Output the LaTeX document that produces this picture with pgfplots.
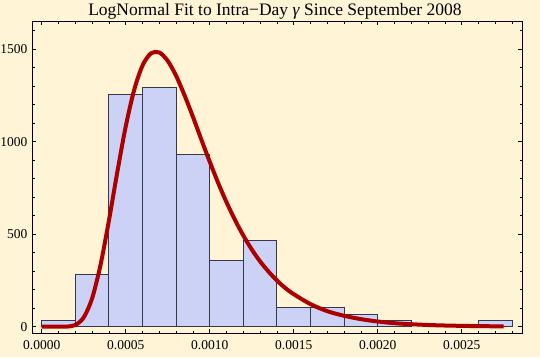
\documentclass[border=0pt]{standalone}
\usepackage{fontspec}
\setmainfont{Liberation Serif}
\usepackage{pgfplots}
\pgfplotsset{compat=1.18}
\definecolor{bg}{RGB}{255,244,214}
\definecolor{barfill}{RGB}{204,210,245}
\definecolor{baredge}{RGB}{55,55,75}
\definecolor{curvecol}{RGB}{172,0,0}
\begin{document}
\begin{tikzpicture}
\useasboundingbox (-32pt,-24pt) rectangle (508pt,333pt);
\fill[bg] (-32pt,-24pt) rectangle (508pt,333pt);
\begin{axis}[
  at={(0pt,0pt)}, anchor=south west,
  scale only axis, width=490pt, height=312pt,
  xmin=-0.0000577, xmax=0.002859, ymin=-34, ymax=1652,
  scaled x ticks=false, scaled y ticks=false,
  xtick={0,0.0005,0.001,0.0015,0.002,0.0025},
  xticklabels={0.0000,0.0005,0.0010,0.0015,0.0020,0.0025},
  minor xtick={0.0001,0.0002,0.0003,0.0004,0.0006,0.0007,0.0008,0.0009,0.0011,0.0012,0.0013,0.0014,0.0016,0.0017,0.0018,0.0019,0.0021,0.0022,0.0023,0.0024,0.0026,0.0027,0.0028},
  ytick={0,500,1000,1500},
  yticklabels={0,500,1000,1500},
  minor ytick={100,200,300,400,600,700,800,900,1100,1200,1300,1400,1600},
  tick align=inside,
  major tick length=4pt, minor tick length=2.5pt,
  tick style={black, line width=0.6pt},
  axis line style={black, line width=0.6pt},
  ticklabel style={font=\fontsize{13.5}{15}\selectfont},
  xticklabel style={yshift=-3.5pt},
  yticklabel style={xshift=-1pt},
  /pgf/number format/assume math mode=true,
]
\addplot[ybar interval, fill=barfill, draw=baredge, line width=0.8pt] coordinates {
  (0,36) (0.0002,283) (0.0004,1256) (0.0006,1291) (0.0008,930) (0.0010,359)
  (0.0012,467) (0.0014,105) (0.0016,105) (0.0018,67) (0.0020,32) (0.0022,32)
};
\addplot[ybar interval, fill=barfill, draw=baredge, line width=0.8pt] coordinates {
  (0.0026,32) (0.0028,32)
};
\addplot[smooth, curvecol, line width=4pt] coordinates {
  (0,0) (0.00005,0) (0.0001,0.01) (0.00015,0.63) (0.0002,9.2) (0.00025,50) (0.0003,153)
  (0.00035,333) (0.0004,573) (0.00045,835) (0.0005,1081) (0.00055,1278)
  (0.0006,1411) (0.00065,1477) (0.0007,1482) (0.00075,1437) (0.0008,1356)
  (0.00085,1251) (0.0009,1135) (0.00095,1012) (0.001,892) (0.00105,778)
  (0.0011,673) (0.00115,578) (0.0012,493) (0.00125,418) (0.0013,353)
  (0.00135,298) (0.0014,250) (0.00145,209) (0.0015,176) (0.0016,122)
  (0.0017,84) (0.0018,59) (0.0019,41) (0.002,28) (0.0021,19) (0.0022,13.5)
  (0.0023,9.3) (0.0024,6.5) (0.0025,4.6) (0.0026,3.2) (0.0027,2.2) (0.00275,1.9)
};
\end{axis}
\node[anchor=base, font=\fontsize{17.5}{20}\selectfont] at (243pt,317.5pt)
  {LogNormal Fit to Intra−Day \textit{γ} Since September 2008};
\end{tikzpicture}
\end{document}
